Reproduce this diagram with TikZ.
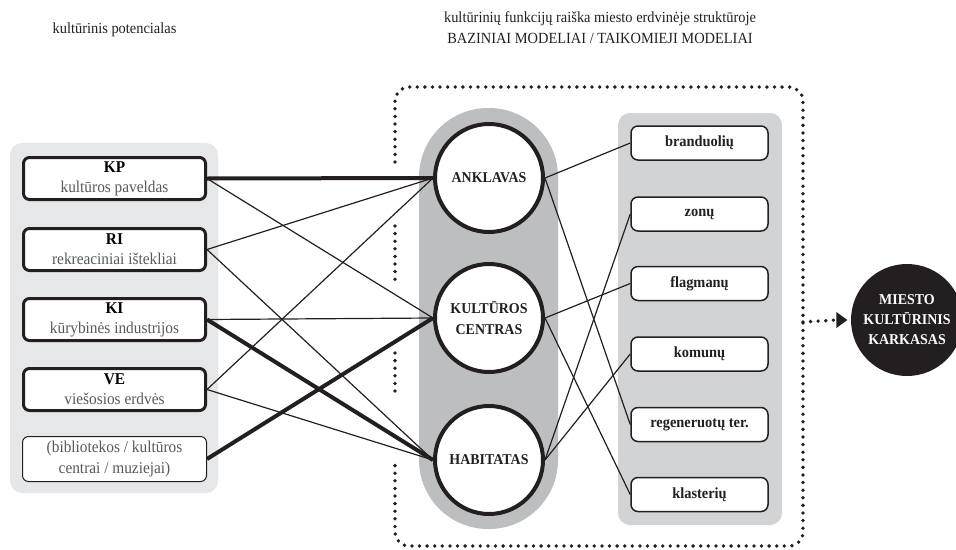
\documentclass[tikz,border=0pt]{standalone}
\usepackage{fontspec}
\setmainfont[FakeStretch=0.93]{Liberation Serif}
\usetikzlibrary{arrows.meta}
\definecolor{inkblack}{HTML}{231F20}
\definecolor{leftgray}{HTML}{E6E7E8}
\definecolor{rightgray}{HTML}{D1D3D4}
\definecolor{capsgray}{HTML}{BCBEC0}
\definecolor{subgray}{HTML}{58595B}
\begin{document}
\begin{tikzpicture}[x=1pt,y=-1pt,line width=1.2pt,
  head/.style={text=inkblack,font=\fontsize{15.5}{21}\selectfont,inner sep=0pt},
  srcbox/.style={draw=inkblack,line width=3pt,rounded corners=6pt,fill=white,
    minimum width=182pt,minimum height=42pt,align=center,inner sep=0pt,
    font=\fontsize{16.5}{21}\selectfont},
  srcthin/.style={srcbox,line width=1pt,minimum width=184pt,minimum height=45pt},
  model/.style={circle,draw=inkblack,line width=4pt,fill=white,minimum size=108pt,
    align=center,inner sep=0pt,font=\fontsize{15}{21}\selectfont\bfseries,text=inkblack},
  target/.style={draw=inkblack,line width=1.5pt,rounded corners=7pt,fill=white,
    minimum width=137pt,minimum height=34pt,inner sep=0pt,
    font=\fontsize{15.5}{20}\selectfont\bfseries,text=inkblack},
  thin/.style={draw=inkblack,line width=1.2pt},
  thick/.style={draw=inkblack,line width=4pt},
  dotline/.style={draw=inkblack,line width=3.8pt,line cap=round,dash pattern=on 0pt off 7.6pt}]
\useasboundingbox (0,0) rectangle (956,549);

% panels
\fill[leftgray,rounded corners=12pt] (10,143) rectangle (218,493);
\fill[rightgray,rounded corners=12pt] (618,113) rectangle (782,525);
\fill[capsgray,rounded corners=69pt] (419,108) rectangle (558,529);

% frame of the models
\draw[dotline,rounded corners=14pt] (395,162) -- (395,87) -- (803,87) -- (803,546) -- (395,546) -- (395,462);
\draw[dotline] (395,226) -- (395,283);
\draw[dotline] (395,353) -- (395,397);

% titles
\node[head,anchor=base] (hdL) at (114.5,33) {kultūrinis potencialas};
\node[head,anchor=base] (hdA) at (600,22) {kultūrinių funkcijų raiška miesto erdvinėje struktūroje};
\node[head,anchor=base] (hdB) at (600,43) {BAZINIAI MODELIAI / TAIKOMIEJI MODELIAI};

% potential
\node[srcbox] (kp) at (114.5,178.5) {\textbf{KP}\\[-1pt]{\color{subgray}kultūros paveldas}};
\node[srcbox] (ri) at (114.5,249.5) {\textbf{RI}\\[-1pt]{\color{subgray}rekreaciniai ištekliai}};
\node[srcbox] (ki) at (114.5,319.5) {\textbf{KI}\\[-1pt]{\color{subgray}kūrybinės industrijos}};
\node[srcbox] (ve) at (114.5,389.5) {\textbf{VE}\\[-1pt]{\color{subgray}viešosios erdvės}};
\node[srcthin] (bib) at (114.5,459) {{\color{subgray}(bibliotekos / kultūros}\\{\color{subgray}centrai / muziejai)}};

% models
\node[model] (ank) at (489,178) {ANKLAVAS};
\node[model] (kc) at (489,318) {KULTŪROS\\CENTRAS};
\node[model] (hab) at (489,460) {HABITATAS};

% targets
\node[target] (bra) at (699.5,143) {branduolių};
\node[target] (zon) at (699.5,214) {zonų};
\node[target] (fla) at (699.5,283.5) {flagmanų};
\node[target] (kom) at (699.5,354) {komunų};
\node[target] (reg) at (699.5,424.5) {regeneruotų ter.};
\node[target] (kla) at (699.5,494.5) {klasterių};

% result
\node[circle,fill=inkblack,minimum size=112pt,inner sep=0pt,align=center,text=white,
  font=\fontsize{15}{20}\selectfont\bfseries] (kark) at (907,320) {MIESTO\\KULTŪRINIS\\KARKASAS};
\coordinate (frameR) at (803,322);

% links potential -> models
\draw[thick] (kp.east) -- (ank.west);
\draw[thin] (kp.east) -- (kc.west);
\draw[thin] (ri.east) -- (ank.west);
\draw[thin] (ri.east) -- (hab.west);
\draw[thin] (ki.east) -- (kc.west);
\draw[thick] (ki.east) -- (hab.west);
\draw[thin] (ve.east) -- (ank.west);
\draw[thin] (ve.east) -- (hab.west);
\draw[thick] (bib.east) -- (kc.west);

% links models -> targets
\draw[thin] (ank.east) -- (bra.west);
\draw[thin] (ank.east) -- (reg.west);
\draw[thin] (kc.east) -- (fla.west);
\draw[thin] (kc.east) -- (kla.west);
\draw[thin] (hab.east) -- (zon.west);
\draw[thin] (hab.east) -- (kom.west);

% to the frame
\draw[dotline] (frameR) -- ([xshift=-14pt]kark.west);
\fill[inkblack] ([xshift=-3pt]kark.west) -- ++(-11,-8) -- ++(0,16) -- cycle;
\end{tikzpicture}
\end{document}
